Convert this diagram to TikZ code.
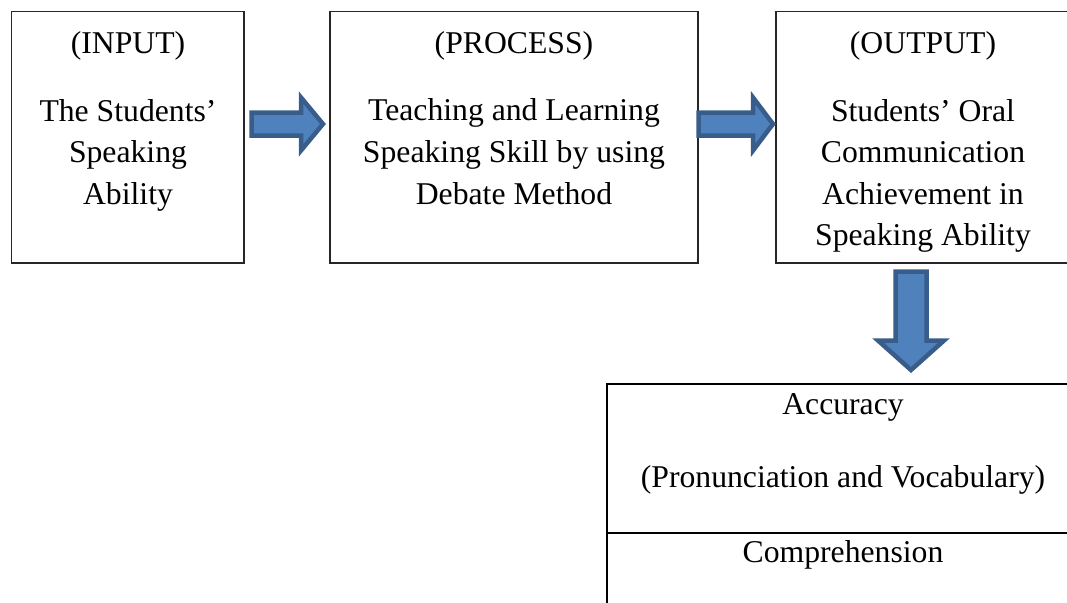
\documentclass[tikz,border=0pt]{standalone}
\usepackage{fontspec}
\setmainfont{Liberation Serif}
\definecolor{arrowfill}{HTML}{4F81BD}
\definecolor{arrowline}{HTML}{385D8A}
\begin{document}
\begin{tikzpicture}[x=1pt,y=-1pt,
  box/.style={draw=black!85, line width=1.3pt, anchor=north west, inner sep=0pt, outer sep=0pt},
  tbox/.style={draw=black, line width=2pt, anchor=north west, inner sep=0pt, outer sep=0pt},
  txt/.style={anchor=base, inner sep=0pt, font=\fontsize{31.7}{38}\selectfont},
  blockarrow/.style={fill=arrowfill, draw=arrowline, line width=4.5pt, line join=miter}]
\useasboundingbox (0,0) rectangle (1067,602);
\clip (0,0) rectangle (1067,602);
% boxes
\node[box, minimum width=232.5pt, minimum height=251.5pt] (in) at (11.5,11.5) {};
\node[box, minimum width=368pt, minimum height=251.5pt] (proc) at (330,11.5) {};
\node[box, minimum width=300pt, minimum height=251.5pt] (out) at (776,11.5) {};
\node[tbox, minimum width=475pt, minimum height=149pt] (acc) at (607,384) {};
\node[tbox, minimum width=475pt, minimum height=120pt] (comp) at (607,533) {};
% texts
\node[txt] (inT) at (128,53) {(INPUT)};
\node[txt] (in1) at (128,121) {The Students’};
\node[txt] (in2) at (128,162) {Speaking};
\node[txt] (in3) at (128,204) {Ability};
\node[txt] (prT) at (514,53) {(PROCESS)};
\node[txt] (pr1) at (514,120) {Teaching and Learning};
\node[txt] (pr2) at (514,162) {Speaking Skill by using};
\node[txt] (pr3) at (514,204) {Debate Method};
\node[txt] (ouT) at (923,53) {(OUTPUT)};
\node[txt] (ou1) at (923,121) {Students’ Oral};
\node[txt] (ou2) at (923,162) {Communication};
\node[txt] (ou3) at (923,204) {Achievement in};
\node[txt] (ou4) at (923,245) {Speaking Ability};
\node[txt] (ac1) at (843,414) {Accuracy};
\node[txt] (ac2) at (843,487) {(Pronunciation and Vocabulary)};
\node[txt] (co1) at (843,562) {Comprehension};
% block arrows
\draw[blockarrow] (251.5,112.5) -- (301,112.5) -- (301,97.5) -- (323,124) -- (301,150.5) -- (301,135.5) -- (251.5,135.5) -- cycle;
\draw[blockarrow] (698.5,112.5) -- (753,112.5) -- (753,97.5) -- (773,124) -- (753,150.5) -- (753,135.5) -- (698.5,135.5) -- cycle;
\draw[blockarrow] (895.5,271.5) -- (926.5,271.5) -- (926.5,340.5) -- (944,340.5) -- (911,370) -- (878,340.5) -- (895.5,340.5) -- cycle;
\end{tikzpicture}
\end{document}
